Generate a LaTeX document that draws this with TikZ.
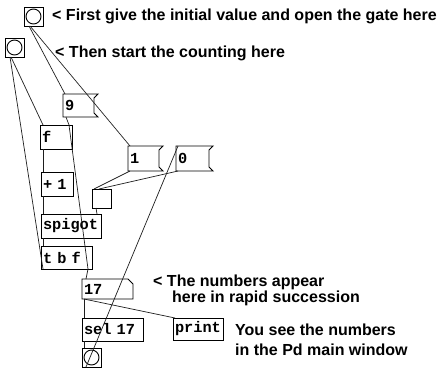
\documentclass[tikz,border=0pt]{standalone}
\usepackage{fontspec}
\setmainfont{Liberation Sans}
\newfontfamily\pdmono{Liberation Mono}
\usetikzlibrary{positioning}
\definecolor{Wire}{HTML}{1E1E1E}
\tikzset{
  pdbox/.style={
    draw=black, line width=0.9pt, anchor=north west, outer sep=0pt,
    inner xsep=2pt, inner ysep=0pt, minimum height=24pt, align=left,
    font=\pdmono\bfseries\fontsize{15.3}{16}\selectfont
  },
  pdmsg/.style={pdbox, draw=none},
  pdgui/.style={
    draw=black, line width=0.9pt, anchor=north west, outer sep=0pt,
    minimum size=19pt, inner sep=0pt
  },
  note/.style={anchor=base west, inner sep=0pt, font=\bfseries\fontsize{16}{18}\selectfont},
  wire/.style={draw=Wire, line width=0.7pt}
}
\begin{document}
\begin{tikzpicture}[x=1pt,y=-1pt]
        \fill[white] (0,0) rectangle (446,367);
        \useasboundingbox (0,0) rectangle (446,367);
        % bangs, toggle and boxes of the patch
        \node[pdgui] (bangA) at (24,7) {};
        \node[pdgui] (bangB) at (5,38) {};
        \node[pdmsg,text width=31pt,minimum height=23pt] (msgnine) at (63,94) {9};
        \node[pdbox,text width=28pt] (objf) at (40,125) {f};
        \node[pdbox,text width=28pt] (objplus) at (41,172) {+ 1};
        \node[pdmsg,text width=31pt,minimum height=25pt] (msgone) at (128,146) {1};
        \node[pdmsg,text width=33pt,minimum height=25pt] (msgzero) at (176,146) {0};
        \node[pdgui] (tgl) at (92,189) {};
        \node[pdbox,text width=56pt] (spigot) at (41,214) {spigot};
        \node[pdbox,text width=47pt,minimum height=23pt] (tbf) at (41,246) {t b f};
        \node[pdmsg,text width=47pt,minimum height=20pt] (numbox) at (82,279) {17};
        \node[pdbox,text width=57pt,minimum height=23pt] (sel) at (82,318) {sel 17};
        \node[pdbox,text width=46pt,minimum height=22pt] (print) at (173,318) {print};
        \node[pdgui] (bangC) at (82,348) {};
        \foreach \b in {bangA,bangB,bangC}
          \draw[line width=0.9pt] (\b) circle (7.5pt);
        \foreach \m in {msgnine,msgone,msgzero}
          \draw[line width=0.9pt] (\m.north east) -- (\m.north west) -- (\m.south west)
            -- (\m.south east) -- ([xshift=-4pt,yshift=4pt]\m.south east)
            -- ([xshift=-4pt,yshift=-4pt]\m.north east) -- cycle;
        \draw[line width=0.9pt] (numbox.north west) -- ([xshift=-5pt]numbox.north east)
          -- ([yshift=-5pt]numbox.north east) -- (numbox.south east) -- (numbox.south west) -- cycle;
        % comments
        \node[note] (noteA) at (52,20) {< First give the initial value and open the gate here};
        \node[note] (noteB) at (55,57) {< Then start the counting here};
        \node[note] (noteC) at (153,286) {< The numbers appear};
        \node[note] (noteD) at (172,302) {here in rapid succession};
        \node[note] (noteE) at (235,335) {You see the numbers};
        \node[note] (noteF) at (235,355) {in the Pd main window};
        % connections
        \draw[wire] ([xshift=5pt]bangA.south west) -- ([xshift=2pt]msgnine.north west);
        \draw[wire] ([xshift=6pt]bangA.south west) -- ([xshift=2pt]msgone.north west);
        \draw[wire] ([xshift=6pt]bangB.south west) -- ([xshift=3pt]objf.north west);
        \draw[wire] ([xshift=2pt]tbf.south west) -- ([xshift=5pt]bangB.south west);
        \draw[wire] ([xshift=3pt]msgnine.south west) -- ([xshift=-3pt]objf.north east);
        \draw[wire] ([xshift=-4pt]tbf.south east) -- ([xshift=-3pt]objf.north east);
        \draw[wire] ([xshift=3pt]objf.south west) -- ([xshift=2pt]objplus.north west);
        \draw[wire] ([xshift=2pt]objplus.south west) -- ([xshift=2pt]spigot.north west);
        \draw[wire] ([xshift=2pt]msgone.south west) -- ([xshift=2pt]tgl.north west);
        \draw[wire] ([xshift=2pt]msgzero.south west) -- ([xshift=7pt]tgl.north west);
        \draw[wire] ([xshift=4pt]tgl.south west) -- ([xshift=-4pt]spigot.north east);
        \draw[wire] ([xshift=2pt]spigot.south west) -- ([xshift=2pt]tbf.north west);
        \draw[wire] ([xshift=-4pt]tbf.south east) -- ([xshift=4pt]numbox.north west);
        \draw[wire] ([xshift=2pt]numbox.south west) -- ([xshift=2pt]sel.north west);
        \draw[wire] ([xshift=2pt]numbox.south west) -- ([xshift=2pt]print.north west);
        \draw[wire] ([xshift=2pt]sel.south west) -- ([xshift=2pt]bangC.north west);
        \draw[wire] ([xshift=4pt]bangC.south west) -- ([xshift=2pt]msgzero.north west);
      \end{tikzpicture}
\end{document}
